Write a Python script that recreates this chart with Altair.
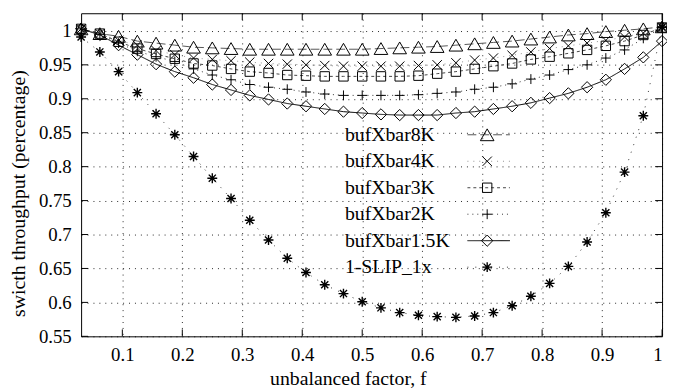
import altair as alt
import pandas as pd

# x values: unbalanced factor f = k/32
f = [k / 32 for k in range(1, 33)]

names = ["bufXbar8K", "bufXbar4K", "bufXbar3K", "bufXbar2K", "bufXbar1.5K", "1-SLIP_1x"]

s8k = [1.003, 0.996, 0.992, 0.985, 0.982, 0.979, 0.976, 0.975, 0.974, 0.973,
       0.973, 0.973, 0.973, 0.973, 0.973, 0.973, 0.974, 0.975, 0.976, 0.977,
       0.979, 0.981, 0.983, 0.985, 0.988, 0.991, 0.994, 0.996, 0.999, 1.001,
       1.003, 1.006]
s4k = [1.003, 0.996, 0.986, 0.979, 0.971, 0.965, 0.960, 0.958, 0.956, 0.954,
       0.952, 0.951, 0.950, 0.949, 0.948, 0.948, 0.948, 0.948, 0.949, 0.950,
       0.953, 0.957, 0.960, 0.964, 0.969, 0.974, 0.978, 0.982, 0.986, 0.991,
       0.997, 1.005]
s3k = [1.003, 0.996, 0.984, 0.974, 0.966, 0.959, 0.952, 0.949, 0.944, 0.940,
       0.938, 0.935, 0.934, 0.933, 0.933, 0.933, 0.933, 0.933, 0.934, 0.937,
       0.940, 0.944, 0.948, 0.952, 0.958, 0.962, 0.967, 0.972, 0.978, 0.985,
       0.994, 1.005]
s2k = [1.003, 0.995, 0.982, 0.970, 0.962, 0.955, 0.944, 0.935, 0.928, 0.921,
       0.917, 0.914, 0.910, 0.907, 0.905, 0.905, 0.905, 0.905, 0.906, 0.908,
       0.910, 0.914, 0.917, 0.922, 0.929, 0.935, 0.943, 0.950, 0.960, 0.972,
       0.989, 1.005]
s15k = [1.003, 0.994, 0.979, 0.965, 0.951, 0.940, 0.931, 0.921, 0.913, 0.905,
        0.899, 0.893, 0.889, 0.885, 0.881, 0.879, 0.877, 0.876, 0.876, 0.876,
        0.879, 0.881, 0.885, 0.889, 0.894, 0.901, 0.908, 0.917, 0.928, 0.944,
        0.961, 0.985]
sslip = [0.991, 0.969, 0.940, 0.909, 0.878, 0.847, 0.815, 0.783, 0.753, 0.721,
         0.692, 0.665, 0.644, 0.626, 0.613, 0.601, 0.592, 0.585, 0.581, 0.579,
         0.578, 0.580, 0.585, 0.595, 0.609, 0.628, 0.653, 0.689, 0.732, 0.792,
         0.875, 1.006]

x_ticks = [0.1, 0.2, 0.3, 0.4, 0.5, 0.6, 0.7, 0.8, 0.9, 1.0]
y_ticks = [0.55, 0.6, 0.65, 0.7, 0.75, 0.8, 0.85, 0.9, 0.95, 1.0]

series = [s8k, s4k, s3k, s2k, s15k, sslip]
df = pd.DataFrame({
    "f": f * len(series),
    "v": [v for s in series for v in s],
    "s": [n for n in names for _ in f],
})

FONT = "Liberation Serif"
W, H = 588, 327

X = alt.X("f:Q", scale=alt.Scale(domain=[1 / 32, 1.0], nice=False, zero=False),
          axis=alt.Axis(values=x_ticks, format=".1~f", title="unbalanced factor, f",
                        labelBaseline="alphabetic", labelPadding=24,
                        titleX=270, titleY=49, titleBaseline="alphabetic"))
Y = alt.Y("v:Q", scale=alt.Scale(domain=[0.55, 1.026], nice=False, zero=False),
          axis=alt.Axis(values=y_ticks, format=".2~f",
                        title="swicth throughput (percentage)", labelPadding=10,
                        titleX=-63, titleY=182, titleAngle=270, titleBaseline="middle"))

star = "M-1,0L1,0M0,-1L0,1M-0.72,-0.72L0.72,0.72M-0.72,0.72L0.72,-0.72"
xmark = "M-1,-1L1,1M-1,1L1,-1"
plus = "M-1,0L1,0M0,-1L0,1"

styles = [
    dict(shape="triangle-up", size=190, dash=[9, 4], lc="#555555", lo=1.0, sw=1.0),
    dict(shape=xmark, size=90, dash=[1, 5], lc="#777777", lo=0.8, sw=1.0),
    dict(shape="square", size=90, dash=[3, 3], lc="#444444", lo=1.0, sw=1.0),
    dict(shape=plus, size=100, dash=[1, 4], lc="#333333", lo=1.0, sw=1.0),
    dict(shape="diamond", size=130, dash=[1, 0], lc="#000000", lo=1.0, sw=1.0),
    dict(shape=star, size=100, dash=[1, 7], lc="#333333", lo=1.0, sw=1.4),
]

layers = []
for name, st in zip(names, styles):
    base = alt.Chart(df).transform_filter(alt.datum.s == name)
    layers.append(base.mark_line(color=st["lc"], strokeWidth=1, strokeDash=st["dash"],
                                 opacity=st["lo"]).encode(x=X, y=Y))
    layers.append(base.mark_point(shape=st["shape"], size=st["size"], filled=False,
                                  color="black", strokeWidth=st["sw"], opacity=1)
                  .encode(x=X, y=Y))

# inward tick marks (gnuplot style, mirrored)
xt_df = pd.DataFrame({"f": x_ticks})
yt_df = pd.DataFrame({"v": y_ticks})
layers.append(alt.Chart(xt_df).mark_rule(color="black").encode(
    x=X, y=alt.value(H), y2=alt.value(H - 7)))
layers.append(alt.Chart(xt_df).mark_rule(color="black").encode(
    x=X, y=alt.value(0), y2=alt.value(7)))
layers.append(alt.Chart(yt_df).mark_rule(color="black").encode(
    y=Y, x=alt.value(0), x2=alt.value(7)))
layers.append(alt.Chart(yt_df).mark_rule(color="black").encode(
    y=Y, x=alt.value(W), x2=alt.value(W - 7)))

# legend (inside the plot)
one = pd.DataFrame({"a": [0]})
leg_text_x, leg_sym_x, leg_l0, leg_l1 = 267, 411, 391, 434
leg_y0, leg_dy = 123, 26.8
for i, (name, st) in enumerate(zip(names, styles)):
    yy = leg_y0 + i * leg_dy
    layers.append(alt.Chart(one).mark_text(text=name, align="left", baseline="middle",
                                           font=FONT, fontSize=20, color="black")
                  .encode(x=alt.value(leg_text_x), y=alt.value(yy)))
    layers.append(alt.Chart(one).mark_rule(color=st["lc"], strokeWidth=1,
                                           strokeDash=st["dash"], opacity=st["lo"])
                  .encode(x=alt.value(leg_l0), x2=alt.value(leg_l1), y=alt.value(yy)))
    layers.append(alt.Chart(one).mark_point(shape=st["shape"], size=st["size"], filled=False,
                                            color="black", strokeWidth=st["sw"], opacity=1)
                  .encode(x=alt.value(leg_sym_x), y=alt.value(yy)))

chart = alt.layer(*layers).properties(
    width=W, height=H,
    autosize=alt.AutoSizeParams(type="none"),
    padding={"left": 74, "top": 3, "right": 5, "bottom": 52},
    background="white",
).configure_view(
    stroke="black", strokeWidth=1
).configure_axis(
    grid=True, gridColor="black", gridDash=[1, 5], gridOpacity=0.85, gridWidth=1,
    domain=False, ticks=False, tickSize=0,
    labelFont=FONT, labelFontSize=19, labelColor="black",
    titleFont=FONT, titleFontSize=20, titleColor="black", titleFontWeight="normal",
)

chart.save("out.html", embed_options={"renderer": "svg", "actions": False})
